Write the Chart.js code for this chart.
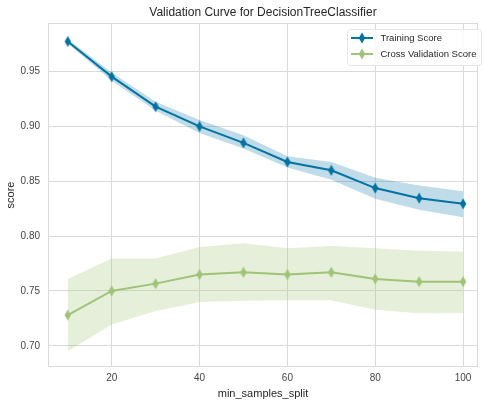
<!DOCTYPE html>
<html>
<head>
<meta charset="utf-8">
<script src="https://cdn.jsdelivr.net/npm/chart.js@4"></script>
<style>
html, body { margin: 0; padding: 0; background: #fff; overflow: hidden; }
#wrap { width: 484px; height: 403px; }
</style>
</head>
<body>
<div id="wrap"><canvas id="c" width="484" height="403"></canvas></div>
<script>
// 数据
const paramRange = [10, 20, 30, 40, 50, 60, 70, 80, 90, 100];
const trainMean  = [0.9775, 0.9454, 0.918, 0.900, 0.885, 0.8676, 0.860, 0.8438, 0.8346, 0.8295];
const trainUpper = [0.9795, 0.9492, 0.9225, 0.9058, 0.892, 0.8728, 0.8676, 0.8533, 0.8462, 0.841];
const trainLower = [0.9755, 0.9416, 0.9143, 0.894, 0.8798, 0.8625, 0.8515, 0.834, 0.824, 0.8172];
const cvMean  = [0.728, 0.750, 0.7567, 0.765, 0.767, 0.765, 0.767, 0.761, 0.7585, 0.7585];
const cvUpper = [0.761, 0.7797, 0.7797, 0.790, 0.7935, 0.789, 0.791, 0.789, 0.7866, 0.786];
const cvLower = [0.695, 0.7195, 0.7317, 0.740, 0.741, 0.7416, 0.7416, 0.733, 0.7297, 0.730];
const xTicks = [20, 40, 60, 80, 100];
const yTicks = [0.70, 0.75, 0.80, 0.85, 0.90, 0.95];
const seriesLabels = ['Training Score', 'Cross Validation Score'];

const chartTitle = 'Validation Curve for DecisionTreeClassifier';
const xTitle = 'min_samples_split';
const yTitle = 'score';

const BLUE = '#0272a2';
const GREEN = '#9fc377';
const FONT = '"Liberation Sans", Arial, sans-serif';
const GRID = '#dadada';

// 细菱形标记
function thinDiamond(color) {
    const cv = document.createElement('canvas');
    cv.width = 8; cv.height = 12;
    const g = cv.getContext('2d');
    g.fillStyle = color;
    g.beginPath();
    g.moveTo(4, 0.5);
    g.lineTo(7.2, 6);
    g.lineTo(4, 11.5);
    g.lineTo(0.8, 6);
    g.closePath();
    g.fill();
    return cv;
}
const blueMark = thinDiamond(BLUE);
const greenMark = thinDiamond(GREEN);

const pts = arr => paramRange.map((x, i) => ({ x: x, y: arr[i] }));

function band(arr, fill, color) {
    return {
        data: pts(arr),
        borderWidth: 0,
        pointRadius: 0,
        fill: fill,
        backgroundColor: color,
        tension: 0,
        order: 2
    };
}

// 边框、标题、图例
const extras = {
    id: 'extras',
    beforeDatasetsDraw(chart) {
        const { ctx, chartArea: a } = chart;
        ctx.save();
        ctx.strokeStyle = GRID;
        ctx.lineWidth = 1;
        ctx.strokeRect(a.left + 0.5, a.top + 0.5, a.right - a.left - 1, a.bottom - a.top - 1);
        ctx.restore();
    },
    afterDraw(chart) {
        const { ctx, chartArea: a } = chart;
        ctx.save();
        ctx.fillStyle = '#262626';
        ctx.font = '12px ' + FONT;
        ctx.textAlign = 'center';
        ctx.textBaseline = 'middle';
        ctx.fillText(chartTitle, (a.left + a.right) / 2, 13);

        // legend
        const bx = 347, by = 29, bw = 134, bh = 36;
        ctx.fillStyle = 'rgba(255,255,255,0.85)';
        ctx.strokeStyle = '#e6e6e6';
        ctx.lineWidth = 1;
        ctx.beginPath();
        ctx.roundRect(bx + 0.5, by + 0.5, bw, bh, 3);
        ctx.fill();
        ctx.stroke();
        const items = [[seriesLabels[0], BLUE, blueMark], [seriesLabels[1], GREEN, greenMark]];
        items.forEach((it, i) => {
            const y = 38 + i * 16;
            ctx.strokeStyle = it[1];
            ctx.lineWidth = 2;
            ctx.beginPath();
            ctx.moveTo(351, y);
            ctx.lineTo(373, y);
            ctx.stroke();
            ctx.drawImage(it[2], 362 - 4, y - 6);
            ctx.fillStyle = '#262626';
            ctx.font = '9.5px ' + FONT;
            ctx.textAlign = 'left';
            ctx.fillText(it[0], 380.5, y + 0.5);
        });
        ctx.restore();
    }
};

new Chart(document.getElementById('c'), {
    type: 'line',
    data: {
        datasets: [
            {
                label: seriesLabels[0],
                data: pts(trainMean),
                borderColor: BLUE,
                borderWidth: 2,
                pointStyle: blueMark,
                tension: 0,
                fill: false,
                order: 0
            },
            {
                label: seriesLabels[1],
                data: pts(cvMean),
                borderColor: GREEN,
                borderWidth: 2,
                pointStyle: greenMark,
                tension: 0,
                fill: false,
                order: 0
            },
            band(trainUpper, false, 'rgba(2,114,162,0.25)'),
            band(trainLower, '-1', 'rgba(2,114,162,0.25)'),
            band(cvUpper, false, 'rgba(159,195,119,0.27)'),
            band(cvLower, '-1', 'rgba(159,195,119,0.27)')
        ]
    },
    options: {
        responsive: false,
        animation: false,
        devicePixelRatio: 1,
        layout: { padding: { top: 23, right: 0, left: 0, bottom: 0 } },
        plugins: {
            legend: { display: false },
            title: { display: false },
            tooltip: { enabled: false }
        },
        scales: {
            x: {
                type: 'linear',
                min: 5.5,
                max: 103.4,
                afterBuildTicks: s => { s.ticks = xTicks.map(v => ({ value: v })); },
                afterFit: s => { s.height = 36; },
                ticks: { color: '#444', font: { family: FONT, size: 10 }, padding: 5, maxRotation: 0 },
                grid: { color: GRID, lineWidth: 1, drawTicks: false },
                border: { display: false },
                title: { display: true, text: xTitle, color: '#262626', font: { family: FONT, size: 11 }, padding: { top: 0, bottom: 2 } }
            },
            y: {
                min: 0.6807,
                max: 0.9943,
                afterBuildTicks: s => { s.ticks = yTicks.map(v => ({ value: v })); },
                afterFit: s => { s.width = 48; },
                ticks: { color: '#444', font: { family: FONT, size: 10 }, padding: 8, callback: v => v.toFixed(2) },
                grid: { color: GRID, lineWidth: 1, drawTicks: false },
                border: { display: false },
                title: { display: true, text: yTitle, color: '#262626', font: { family: FONT, size: 11 }, padding: { top: 4, bottom: 4 } }
            }
        }
    },
    plugins: [extras]
});
</script>
</body>
</html>
